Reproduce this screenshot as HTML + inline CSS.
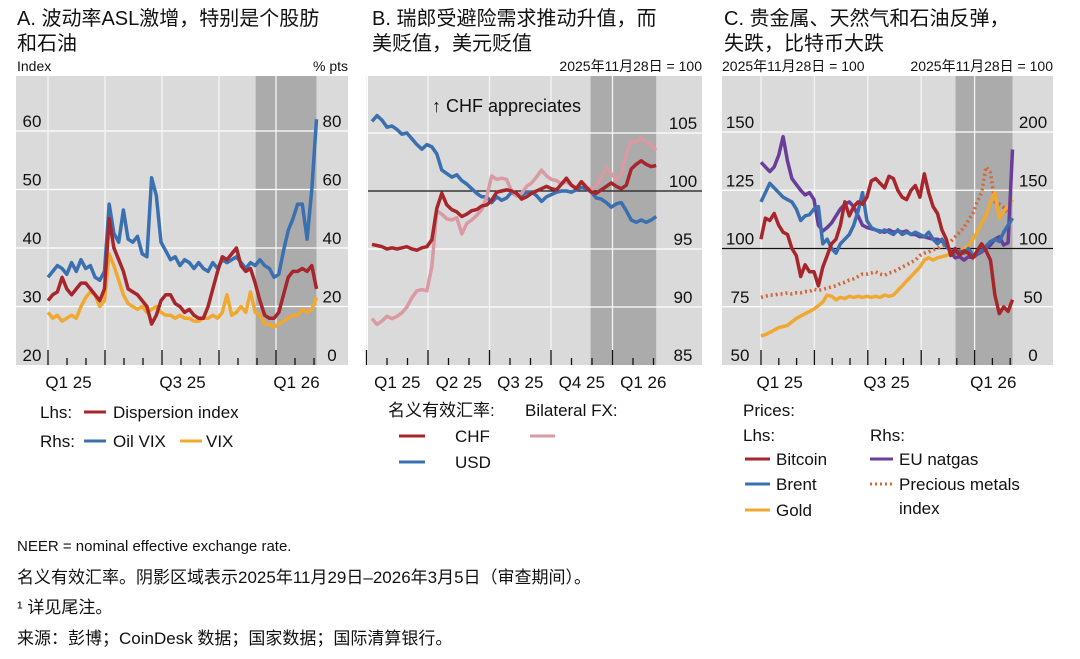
<!DOCTYPE html>
<html><head><meta charset="utf-8">
<style>
body{margin:0;background:#fff;width:1080px;height:654px;overflow:hidden;font-family:"Liberation Sans","Noto Sans CJK SC",sans-serif;}
svg text{font-family:"Liberation Sans","Noto Sans CJK SC",sans-serif;fill:#111;}
</style></head>
<body>
<svg id="chart" width="1080" height="654" xmlns="http://www.w3.org/2000/svg">
<g font-size="20">
<text x="17" y="25">A. 波动率ASL激增，特别是个股肪</text>
<text x="17" y="50">和石油</text>
<text x="372" y="25">B. 瑞郎受避险需求推动升值，而</text>
<text x="372" y="50">美贬值，美元贬值</text>
<text x="724" y="25">C. 贵金属、天然气和石油反弹，</text>
<text x="724" y="50">失跌，比特币大跌</text>
</g>
<g font-size="14">
<text x="17" y="71">Index</text>
<text x="348" y="71" text-anchor="end">% pts</text>
<text x="702" y="71" text-anchor="end">2025年11月28日 = 100</text>
<text x="722" y="71">2025年11月28日 = 100</text>
<text x="1053" y="71" text-anchor="end">2025年11月28日 = 100</text>
</g>
<g id="plots"></g>
<g font-size="17">
<text x="40" y="418">Lhs:</text>
<line x1="84" y1="412" x2="106" y2="412" stroke="#a6262b" stroke-width="3"/>
<text x="113" y="418">Dispersion index</text>
<text x="40" y="447">Rhs:</text>
<line x1="84" y1="441" x2="106" y2="441" stroke="#3a6fb0" stroke-width="3"/>
<text x="113" y="447">Oil VIX</text>
<line x1="180" y1="441" x2="202" y2="441" stroke="#f0a830" stroke-width="3"/>
<text x="206" y="447">VIX</text>

<text x="388" y="416">名义有效汇率:</text>
<text x="525" y="416">Bilateral FX:</text>
<line x1="399" y1="436" x2="425" y2="436" stroke="#a6262b" stroke-width="3"/>
<text x="455" y="442">CHF</text>
<line x1="530" y1="436" x2="555" y2="436" stroke="#d99aa3" stroke-width="3"/>
<line x1="399" y1="462" x2="425" y2="462" stroke="#3a6fb0" stroke-width="3"/>
<text x="455" y="468">USD</text>

<text x="743" y="416">Prices:</text>
<text x="743" y="441">Lhs:</text>
<text x="870" y="441">Rhs:</text>
<line x1="745" y1="459" x2="770" y2="459" stroke="#a6262b" stroke-width="3"/>
<text x="776" y="465">Bitcoin</text>
<line x1="745" y1="484" x2="770" y2="484" stroke="#3a6fb0" stroke-width="3"/>
<text x="776" y="490">Brent</text>
<line x1="745" y1="510" x2="770" y2="510" stroke="#f0a830" stroke-width="3"/>
<text x="776" y="516">Gold</text>
<line x1="870" y1="459" x2="893" y2="459" stroke="#6a3d9a" stroke-width="3"/>
<text x="899" y="465">EU natgas</text>
<line x1="870" y1="484" x2="893" y2="484" stroke="#d2683a" stroke-width="3" stroke-dasharray="2,3"/>
<text x="899" y="490">Precious metals</text>
<text x="899" y="514">index</text>
</g>
<g>
<text x="17" y="551" font-size="15">NEER = nominal effective exchange rate.</text>
<text x="17" y="583" font-size="17">名义有效汇率。阴影区域表示2025年11月29日–2026年3月5日（审查期间）。</text>
<text x="17" y="613" font-size="17">¹ 详见尾注。</text>
<text x="17" y="644" font-size="17">来源：彭博；CoinDesk 数据；国家数据；国际清算银行。</text>
</g>
</svg>
<script>
// Panel A data (weekly samples Jan 2025 – Mar 2026)
const dispersion = [31,32,32.5,35,33,32,33,34,34,33,32,31,33,45,40,38,36,33,32.5,32,31,30,27,28.5,31,32,32,30.5,30,29,29.5,28.5,28,28,30,33,36,38.5,38,39,40,37,36,36.5,34,31,28.5,28,28,29,32,35,36,36,36.5,36,37,33];
const oilVix = [30,32,34,33,31,35,32,36,33,34,30,29,32,55,45,42,53,43,42,44,38,37,64,58,42,39,36,37,34,36,35,33,35,33,32,35,33,36,35,36,37,35,33,35,34,36,34,33,30,31,39,46,50,55,55,43,60,84];
const vix = [18,16,17,15,16,17,16,20,23,25,24,20,22,38,34,29,24,21,20,19,20,18,19,20,18,17,17,16,17,16,16,15,15,16,16,17,16,18,24,17,18,20,18,25,18,17,14,14,13,14,15,16,17,17,19,18,19,23];
// Panel B data
const usdNeer = [106,106.5,106.1,105.5,105.6,105.3,104.9,105,104.5,104,103.6,104,103.8,103.2,101.8,101.5,101.2,101.4,100.9,100.6,100.2,99.8,99.5,99.5,99,99.5,99.2,99.4,99.9,99.6,99.6,99.9,99.9,99.6,99.1,99.5,99.7,99.9,100,100,99.9,100.1,100.3,100.2,99.9,99.4,99.3,99,98.6,98.9,99,98.3,97.5,97.3,97.5,97.3,97.5,97.8];
const chfNeer = [95.4,95.3,95.2,95,95.1,95,95.1,95.2,95,94.9,95.1,95.2,95.8,98.5,99.8,98.8,98.4,98.2,97.8,98,98.3,98.4,98.7,98.8,99.2,99.9,100,100.1,100,99.8,99.3,99.5,99.8,100,100.2,100.4,100.2,100.1,100.6,101.1,100.5,100.2,100.8,100.3,99.9,99.8,100.1,100.4,100.7,100.4,100.2,100.5,101.9,102.3,102.6,102.3,102.1,102.2];
const chfUsd = [89,88.5,88.8,89.2,89,89.2,89.5,90,90.8,91.4,91.5,91.4,93.5,98.3,98,97.6,97.5,97.7,96.3,97.2,97.5,97.9,98.4,99.5,101.3,101,101.1,101,100,99.6,99.8,100.4,100.7,101.2,101.8,101.3,101,100.9,100.6,100.8,100.5,100.3,100.8,100.4,100.1,100.5,101.2,102,101.5,101,101.4,103.2,104.3,104.2,104.6,104.2,103.9,103.5];
// Panel C data
const bitcoin = [104,113,112,115,110,107,106,100,97,88,93,90,90,84,92,97,102,104,110,120,114,118,120,119,122,129,130,128,126,131,130,125,122,121,125,127,122,132,124,118,115,108,104,97,100,97,99,98,96,99,102,99,95,80,72,75,73,78];
const brent = [120,124,128,126,124,122,121,120,117,112,114,114.5,117,118,102,104,100,98,102,104,106,110,116,124,112,109,108,107,108,107,106,108,106,107,106,107,106,105,107,104,102,104,101,99,98,99,98,100,97,98,99,101,103,104,103,107,110,113];
const gold = [62.5,63,64,65,66,66.5,67,68.5,70,71,72,73,74,75.5,77,80,79.5,78,79,78.5,79.5,79,79.5,79,79.5,79,79.5,79,80,79.5,80,82,84,86,88,90,92,95,96,95,96,96.5,97,98,98,99,100,101,104,107,111,114,120,124,113,116,118,121];
const natgas = [174,170,166,170,180,196,175,160,155,150,146,148,142,120,115,118,122,128,134,138,140,136,128,120,118,117,116,115,114,116,114,115,114,115,112,112,110,110,109,108,108,106,104,97,92,93,90,93,92,95,97,100,103,108,110,103,105,185];
const precious = [58,59,60,60,61,61,62,61,62,62,63,63,65,64,65,66,67,68,70,71,73,74,76,78,78,79,80,78,77,79,80,82,84,86,88,90,94,96,97,99,100,102,104,106,110,114,118,124,130,140,148,170,165,140,138,135,130,130];
// Tick labels
const aLhsTicks = [20,30,40,50,60];
const aRhsTicks = [0,20,40,60,80];
const bTicks = [85,90,95,100,105];
const cLhsTicks = [50,75,100,125,150];
const cRhsTicks = [0,50,100,150,200];
const aQLabels = [["Q1 25",1.5],["Q3 25",7.5],["Q1 26",13.5]];
const bQLabels = [["Q1 25",1.5],["Q2 25",4.5],["Q3 25",7.5],["Q4 25",10.5],["Q1 26",13.5]];
const cQLabels = [["Q1 25",1.5],["Q3 25",7.5],["Q1 26",13.5]];
const tEnd = 14.13, shadeStart = 10.93;

const NS = "http://www.w3.org/2000/svg";
const plots = document.getElementById('plots');
function mk(tag, attrs, parent){
  const e = document.createElementNS(NS, tag);
  for (const k in attrs) e.setAttribute(k, attrs[k]);
  (parent||plots).appendChild(e);
  return e;
}
function panel(cfg){
  const g = mk('g', {});
  
  
  const bg = mk('rect', {x:cfg.x0, y:76, width:cfg.x1-cfg.x0, height:289, fill:'#dadada'}, g);
  
  
  const sh = mk('rect', {x:cfg.xs(shadeStart), y:76, width:cfg.xs(tEnd)-cfg.xs(shadeStart), height:289, fill:'#ababab'}, g);
  
  
  cfg.lTicks.forEach(v=>{
    const y = cfg.yl(v);
    if (y < 360) {
      const l = mk('line', {x1:cfg.x0, x2:cfg.x1, y1:y, y2:y, stroke:'#fff', 'stroke-width':1.3}, g);
      
      
    }
  });
  for (let m=0; m<=12; m+=3){
    const x = cfg.xs(m);
    const l = mk('line', {x1:x, x2:x, y1:76, y2:365, stroke:'#f4f4f4', 'stroke-width':1.3}, g);
    
    
  }
  for (let m=0; m<=14; m++){
    const x = cfg.xs(m);
    const major = m%3===0;
    const l = mk('line', {x1:x, x2:x, y1: major?350:358, y2:365, stroke:'#111', 'stroke-width':1.3}, g);
    
    
  }
  if (cfg.ref!==undefined){
    const y = cfg.yl(cfg.ref);
    const l = mk('line', {x1:cfg.x0, x2:cfg.x1, y1:y, y2:y, stroke:'#111', 'stroke-width':1.3}, g);
    
    
  }
  if (cfg.lLabelX){
    cfg.lTicks.forEach(v=>{
      const t = mk('text', {x:cfg.lLabelX, y:cfg.yl(v)-4, 'text-anchor':'middle', 'font-size':17}, g);
      t.textContent = v;
      
      
    });
  }
  cfg.rTicks.forEach((v,i)=>{
    const t = mk('text', {x:cfg.rLabelX, y:cfg.yl(cfg.lTicks[i])-4, 'text-anchor':'middle', 'font-size':17}, g);
    t.textContent = v;
    
    
  });
  cfg.qLabels.forEach(q=>{
    const t = mk('text', {x:cfg.xs(q[1])-(cfg.qShift||0), y:388, 'text-anchor':'middle', 'font-size':17}, g);
    t.textContent = q[0];
    
    
  });
  cfg.series.forEach(s=>{
    const n = s.data.length, t0 = s.t0||0;
    const pts = s.data.map((v,i)=>{
      const t = t0 + i*(tEnd-t0)/(n-1);
      return cfg.xs(t).toFixed(1)+','+s.y(v).toFixed(1);
    }).join(' ');
    const p = mk('polyline', {points:pts, fill:'none', stroke:s.color, 'stroke-width':s.dash?3.6:3.5, 'stroke-linejoin':'round', 'stroke-dasharray':s.dash||'none'}, g);
    
    
  });
  return g;
}
const axA = t=>48+t*19, ylA = v=>365-(v-20)*5.85, yrA = v=>ylA(20+v/2);
panel({name:'panel-a', x0:16, x1:348, xs:axA, yl:ylA, lTicks:aLhsTicks, rTicks:aRhsTicks, lLabelX:32, rLabelX:332, qLabels:aQLabels, qShift:8,
  series:[{name:'line-oil-vix', data:oilVix, y:yrA, color:'#3a6fb0'},
          {name:'line-vix', data:vix, y:yrA, color:'#f0a830'},
          {name:'line-dispersion-index', data:dispersion, y:ylA, color:'#a6262b'}]});
const axB = t=>366.5+t*20.5, ylB = v=>365-(v-85)*11.6;
panel({name:'panel-b', x0:368, x1:702, xs:axB, yl:ylB, ref:100, lTicks:bTicks, rTicks:bTicks, rLabelX:683, qLabels:bQLabels, qShift:0,
  series:[{name:'line-usd-neer', data:usdNeer, y:ylB, color:'#3a6fb0', t0:0.27},
          {name:'line-chf-usd-bilateral', data:chfUsd, y:ylB, color:'#d99aa3', t0:0.27},
          {name:'line-chf-neer', data:chfNeer, y:ylB, color:'#a6262b', t0:0.27}]});
const axC = t=>761+t*17.8, ylC = v=>365-(v-50)*2.33, yrC = v=>ylC(50+v/2);
panel({name:'panel-c', x0:722, x1:1053, xs:axC, yl:ylC, ref:100, lTicks:cLhsTicks, rTicks:cRhsTicks, lLabelX:740, rLabelX:1033, qLabels:cQLabels, qShift:8,
  series:[{name:'line-precious-metals', data:precious, y:yrC, color:'#d2683a', dash:'2,3'},
          {name:'line-gold', data:gold, y:ylC, color:'#f0a830'},
          {name:'line-eu-natgas', data:natgas, y:yrC, color:'#6a3d9a'},
          {name:'line-brent', data:brent, y:ylC, color:'#3a6fb0'},
          {name:'line-bitcoin', data:bitcoin, y:ylC, color:'#a6262b'}]});
const ann = mk('text', {x:432, y:112, 'font-size':18});
ann.textContent = '↑ CHF appreciates';


</script>
</body></html>
